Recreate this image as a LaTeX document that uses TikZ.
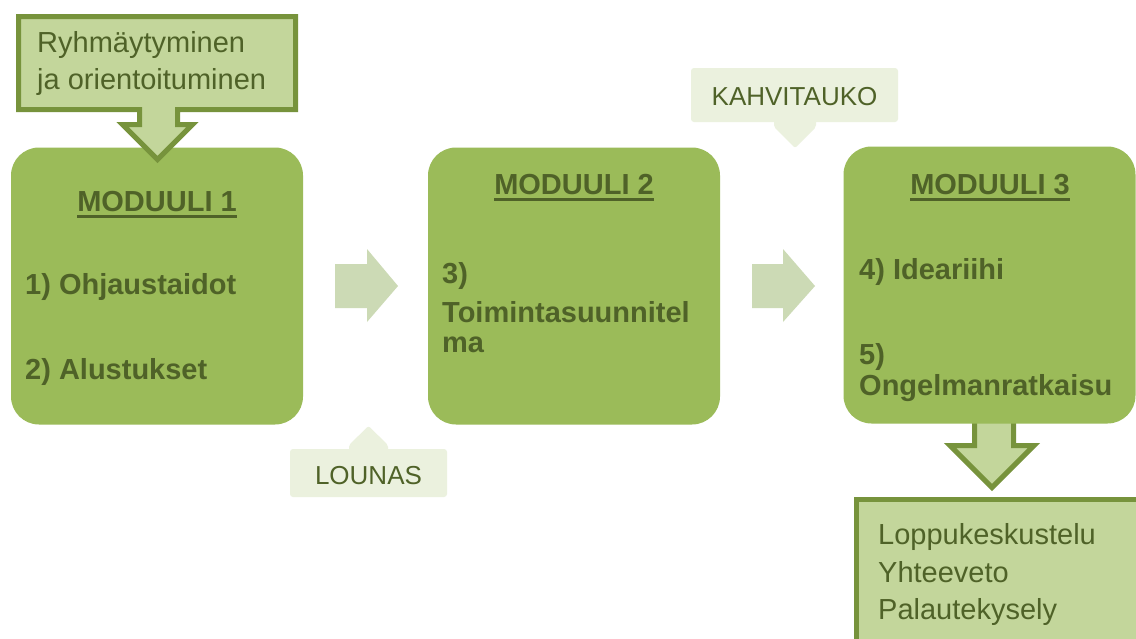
\documentclass[tikz,border=0pt]{standalone}
\usepackage{fontspec}
\setmainfont{Liberation Sans}
\definecolor{modfill}{HTML}{9BBB59}
\definecolor{dark}{HTML}{4F6228}
\definecolor{callfill}{HTML}{C3D69B}
\definecolor{callline}{HTML}{77933C}
\definecolor{arrfill}{HTML}{CCDAB5}
\definecolor{notefill}{HTML}{EBF1DE}
\begin{document}
\begin{tikzpicture}[x=1pt,y=-1pt,
  modbox/.style={fill=modfill, draw=none, rounded corners=28pt, minimum width=292pt, minimum height=277pt, inner sep=0pt},
  bodytxt/.style={text=dark, font=\fontsize{29}{34}\selectfont\bfseries, inner sep=0pt, anchor=base west},
  titletxt/.style={bodytxt, anchor=base},
  calltxt/.style={text=dark, font=\fontsize{29}{34}\selectfont, inner sep=0pt, anchor=base west},
  notetxt/.style={text=dark, font=\fontsize{26}{30}\selectfont, inner sep=0pt, anchor=base},
  callshape/.style={fill=callfill, draw=callline, line width=5pt, line join=miter},
  blockarrow/.style={fill=arrfill, draw=none},
  notebox/.style={fill=notefill, draw=none, rounded corners=3pt},
  uline/.style={draw=dark, line width=2.5pt}]

\useasboundingbox (0,0) rectangle (1136,638);
\fill[white] (0,0) rectangle (1136,638);

% down arrow below module 3 (partly hidden by the module)
\draw[callshape] (974.5,412) -- (974.5,445.5) -- (950,445.5) -- (992,487.5) -- (1034,445.5) -- (1013.5,445.5) -- (1013.5,412) -- cycle;

% modules
\node[modbox] (m1) at (157,286) {};
\node[modbox] (m2) at (574,286) {};
\node[modbox] (m3) at (989.5,285) {};

% top callout
\draw[callshape] (18.5,16.5) -- (295.5,16.5) -- (295.5,109.5) -- (177.5,109.5) -- (177.5,124.5) -- (192.5,124.5) -- (157.5,159.5) -- (122.5,124.5) -- (139.5,124.5) -- (139.5,109.5) -- (18.5,109.5) -- cycle;
\node[calltxt] (c1a) at (37,52) {Ryhmäytyminen};
\node[calltxt] (c1b) at (37,89) {ja orientoituminen};

% bottom callout box
\draw[callshape] (856.5,499.5) rectangle (1146,650);
\node[calltxt] (c2a) at (878,544) {Loppukeskustelu};
\node[calltxt] (c2b) at (878,582) {Yhteeveto};
\node[calltxt] (c2c) at (878,619) {Palautekysely};

% block arrows between modules
\fill[blockarrow] (335,264) -- (367,264) -- (367,249) -- (398,286) -- (367,322) -- (367,308) -- (335,308) -- cycle;
\fill[blockarrow] (752,264) -- (783,264) -- (783,249) -- (815,286) -- (783,322) -- (783,308) -- (752,308) -- cycle;

% notes
\fill[notebox] (691,68) rectangle (898,122);
\fill[notefill, rounded corners=2pt] (774,118) -- (816,118) -- (816,127) -- (795,148) -- (774,127) -- cycle;
\node[notetxt] (kahvi) at (794.5,105) {KAHVITAUKO};

\fill[notebox] (290,449) rectangle (447,497);
\fill[notefill, rounded corners=2pt] (349,452) -- (349,445) -- (368.5,426) -- (388,445) -- (388,452) -- cycle;
\node[notetxt] (lounas) at (368.5,484) {LOUNAS};

% module texts
\node[titletxt] (t1) at (157,211) {MODUULI 1};
\draw[uline] ([yshift=-5.5pt]t1.base west) -- ([yshift=-5.5pt]t1.base east);
\node[bodytxt] (a1) at (25,294) {1) Ohjaustaidot};
\node[bodytxt] (a2) at (25,379) {2) Alustukset};

\node[titletxt] (t2) at (574,194) {MODUULI 2};
\draw[uline] ([yshift=-5.5pt]t2.base west) -- ([yshift=-5.5pt]t2.base east);
\node[bodytxt] (b1) at (442,283) {3)};
\node[bodytxt] (b2) at (442,322) {Toimintasuunnitel};
\node[bodytxt] (b3) at (442,352) {ma};

\node[titletxt] (t3) at (990,194) {MODUULI 3};
\draw[uline] ([yshift=-5.5pt]t3.base west) -- ([yshift=-5.5pt]t3.base east);
\node[bodytxt] (d1) at (859,279) {4) Ideariihi};
\node[bodytxt] (d2) at (859,364) {5)};
\node[bodytxt] (d3) at (859,395) {Ongelmanratkaisu};
\end{tikzpicture}
\end{document}
